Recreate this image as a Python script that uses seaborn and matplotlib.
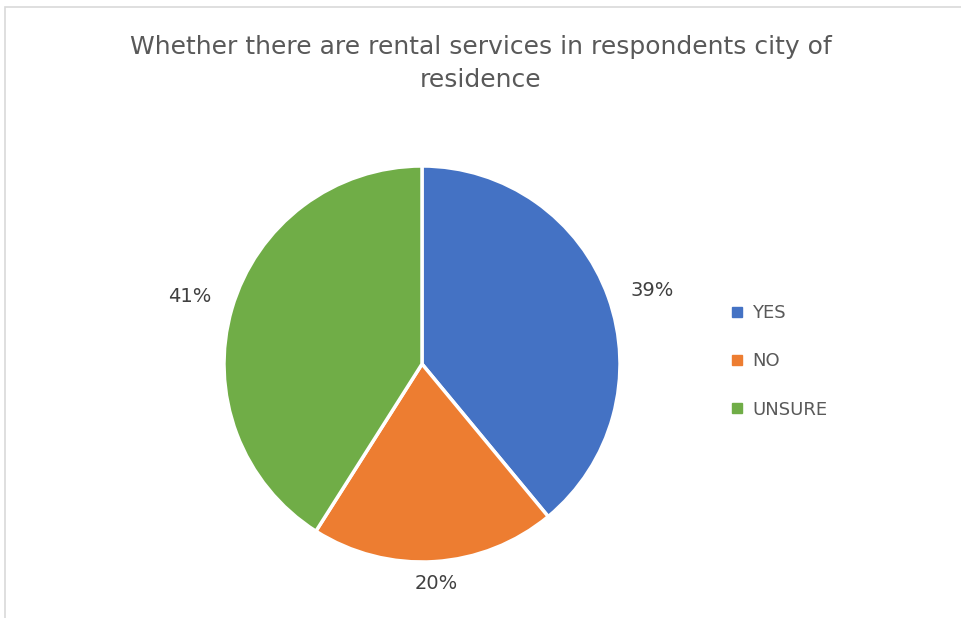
import matplotlib
matplotlib.use("Agg")
import matplotlib.pyplot as plt
from matplotlib.lines import Line2D
from matplotlib.patches import Rectangle
import numpy as np
import seaborn as sns

categories = ["YES", "NO", "UNSURE"]
shares = [39, 20, 41]
colors = ["#4472C4", "#ED7D31", "#70AD47"]
title = "Whether there are rental services in respondents city of\nresidence"

sns.set_theme(style="white")
plt.rcParams["font.family"] = ["DejaVu Sans"]

W, H = 961, 618
fig = plt.figure(figsize=(W / 100, H / 100), dpi=100)
fig.patch.set_facecolor("white")

# light chart-area frame
fig.add_artist(Rectangle((5 / W, -0.05), 1.2, 1 - 7 / H + 0.05,
                         transform=fig.transFigure, fill=False,
                         edgecolor="#D9D9D9", linewidth=1.2))

cx, cy, R = 422, 364, 198
ax = fig.add_axes([(cx - R) / W, (H - cy - R) / H, 2 * R / W, 2 * R / H])
wedges, _ = ax.pie(shares, colors=colors, startangle=90, counterclock=False,
                   radius=1, wedgeprops=dict(edgecolor="white", linewidth=2.5))
ax.set_xlim(-1, 1)
ax.set_ylim(-1, 1)
ax.set_aspect("equal")
ax.axis("off")

# percentage labels outside each slice
dists = [1.22, 1.11, 1.22]
shifts = [-2.2, 0.0, 0.0]
for w, v, d, s in zip(wedges, shares, dists, shifts):
    ang = np.deg2rad((w.theta1 + w.theta2) / 2 + s)
    ax.text(d * np.cos(ang), d * np.sin(ang), f"{v}%", ha="center", va="center",
            fontsize=14, color="#404040", clip_on=False)

fig.text(0.5, 1 - 63.5 / H, title, ha="center", va="center", fontsize=18,
         color="#595959", linespacing=1.52)

handles = [Line2D([], [], marker="s", linestyle="", markersize=6.5,
                  markerfacecolor=c, markeredgecolor=c) for c in colors]
fig.legend(handles, categories, loc="upper left",
           bbox_to_anchor=(723 / W, 1 - 295 / H), frameon=False,
           fontsize=13, labelcolor="#595959", handlelength=0.6,
           handletextpad=0.5, labelspacing=1.68, borderpad=0)

fig.savefig("out.png", dpi=100, facecolor="white")
